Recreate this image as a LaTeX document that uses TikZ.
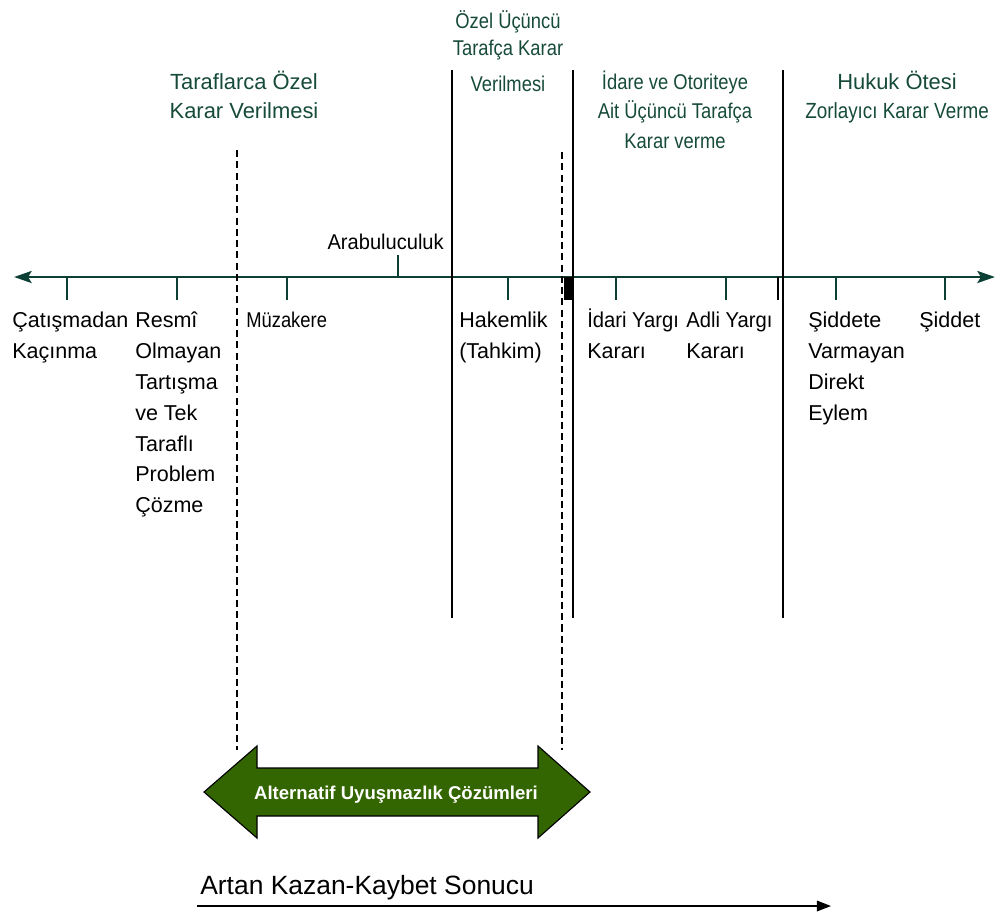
\documentclass[tikz,border=0pt]{standalone}
\usepackage{fontspec}
\setmainfont{Liberation Sans}
\newfontfamily\narrowfont[FakeStretch=0.86]{Liberation Sans}
\newfontfamily\semifont[FakeStretch=0.94]{Liberation Sans}
\usetikzlibrary{arrows.meta}
\definecolor{axisgreen}{RGB}{12,64,52}
\definecolor{titlegreen}{RGB}{22,74,58}
\definecolor{adrgreen}{RGB}{51,102,0}
\newcommand{\fstrut}{\rule{0pt}{15pt}}
\tikzset{>={Stealth[length=12.5pt,width=8.5pt,inset=2.5pt]}}
\tikzset{
  timeline/.style = {draw=axisgreen, line width=2.1pt},
  tickmark/.style = {draw=axisgreen, line width=2.1pt},
  divider/.style = {draw=black, line width=2.1pt},
  adrlimit/.style = {draw=black, line width=1.1pt, dash pattern=on 5pt off 3pt},
  txt/.style = {inner sep=0pt, yshift=15pt},
  lbl/.style = {txt, anchor=north west, align=left, font=\fontsize{15.3}{22}\selectfont},
  toptext/.style = {txt, anchor=north, align=center, text=titlegreen,
    font=\fontsize{15.6}{20.8}\selectfont},
  adrarrow/.style = {fill=adrgreen, draw=black, line width=0.8pt, line join=miter}
}

\begin{document}
\begin{tikzpicture}[x=0.025cm, y=-0.025cm]
  \useasboundingbox (0,0) rectangle (1006,916);
  % the time line
  \coordinate (tlL) at (14,277);
  \coordinate (tlR) at (995,277);
  \draw[timeline,<->] (tlL) -- (tlR);
  \foreach \x in {67,177,287,508,616,726,836,945}
    \draw[tickmark] (\x,277) -- (\x,300);
  \draw[tickmark] (398,277) -- (398,255);
  \draw[divider, line width=5pt] (568,277) -- (568,300);
  \draw[divider] (778,277) -- (778,300);
  % borders of the parts
  \foreach \x in {452,573,783}
    \draw[divider] (\x,70) -- (\x,618);
  \foreach \x/\t in {237/150,562/152}
    \draw[adrlimit] (\x,\t) -- (\x,750);

  % headings
  \node[toptext] (ozel) at (244,89) {\fstrut Taraflarca Özel\\Karar Verilmesi};
  \node[toptext, font=\narrowfont\fontsize{15.2}{19.6}\selectfont] (ucuncu) at (508,28)
    {\fstrut Özel Üçüncü\\Tarafça Karar\\[6pt]Verilmesi};
  \node[toptext, font=\narrowfont\fontsize{15.2}{21}\selectfont] (idare) at (675,89)
    {\fstrut İdare ve Otoriteye\\Ait Üçüncü Tarafça\\Karar verme};
  \node[toptext] (hukuk) at (897,89) {\fstrut Hukuk Ötesi\\{\narrowfont Zorlayıcı Karar Verme}};

  % the ways
  \node[lbl] (catisma) at (12,327) {\fstrut Çatışmadan\\Kaçınma};
  \node[lbl] (resmi) at (135,327) {\fstrut Resmî\\Olmayan\\Tartışma\\ve Tek\\Taraflı\\Problem\\Çözme};
  \node[lbl, font=\narrowfont\fontsize{15.2}{22}\selectfont] (muzakere) at (246,327) {\fstrut Müzakere};
  \node[lbl, anchor=north east, font=\semifont\fontsize{15.2}{22}\selectfont] (arabulucu) at (444,249) {\fstrut Arabuluculuk};
  \node[lbl] (hakemlik) at (459,327) {\fstrut Hakemlik\\(Tahkim)};
  \node[lbl] (idari) at (587,327) {\fstrut{\semifont İdari Yargı}\\Kararı};
  \node[lbl] (adli) at (686,327) {\fstrut{\semifont Adli Yargı}\\Kararı};
  \node[lbl] (siddete) at (808,327) {\fstrut Şiddete\\Varmayan\\Direkt\\Eylem};
  \node[lbl] (siddet) at (919,327) {\fstrut Şiddet};

  % ADR arrow
  \draw[adrarrow] (204,792) -- (257,746) -- (257,768) -- (538,768) -- (538,746) -- (590,792)
    -- (538,838) -- (538,816) -- (257,816) -- (257,838) -- cycle;
  \node[txt, anchor=north, text=white, font=\bfseries\fontsize{13.2}{16}\selectfont] (adr) at (396,799)
    {\fstrut Alternatif Uyuşmazlık Çözümleri};

  % win-lose
  \node[txt, anchor=north west, font=\fontsize{18.8}{22}\selectfont] (artan) at (200,894)
    {\fstrut Artan Kazan-Kaybet Sonucu};
  \coordinate (sonucL) at (197,906);
  \coordinate (sonucR) at (831,906);
  \draw[-{Triangle[length=10pt,width=7.5pt]}, line width=1.1pt] (sonucL) -- (sonucR);
\end{tikzpicture}
\end{document}
